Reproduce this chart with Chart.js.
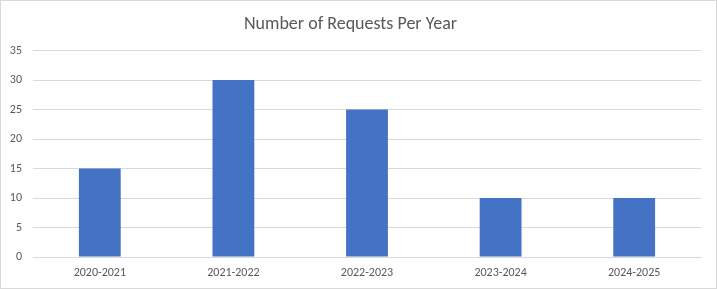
<!DOCTYPE html>
<html>
<head>
<meta charset="utf-8">
<script src="https://cdn.jsdelivr.net/npm/chart.js@4"></script>
<style>
html,body{margin:0;padding:0;background:#fff;}
canvas{display:block;}
</style>
</head>
<body>
<canvas id="c" width="717" height="289"></canvas>
<script>
const categories = ["2020-2021", "2021-2022", "2022-2023", "2023-2024", "2024-2025"];
const requests = [15, 30, 25, 10, 10];
const chartTitle = "Number of Requests Per Year";

const FONT = "Carlito, Calibri, Lato, 'Open Sans', sans-serif";

const frame = {
  id: 'frame',
  beforeDraw(chart) {
    const ctx = chart.ctx;
    ctx.save();
    ctx.fillStyle = '#ffffff';
    ctx.fillRect(0, 0, chart.width, chart.height);
    ctx.restore();
  },
  afterDraw(chart) {
    const ctx = chart.ctx;
    ctx.save();
    ctx.strokeStyle = '#d9d9d9';
    ctx.lineWidth = 1;
    ctx.strokeRect(0.5, 0.5, chart.width - 1, chart.height - 1);
    ctx.restore();
  }
};

new Chart(document.getElementById('c'), {
  type: 'bar',
  data: {
    labels: categories,
    datasets: [{
      label: 'Requests',
      data: requests,
      backgroundColor: '#4472C4',
      borderWidth: 0,
      categoryPercentage: 1,
      barPercentage: 0.313
    }]
  },
  plugins: [frame],
  options: {
    responsive: false,
    animation: false,
    devicePixelRatio: 1,
    layout: { padding: { left: 0, right: 16, top: 0, bottom: 0 } },
    plugins: {
      legend: { display: false },
      tooltip: { enabled: false },
      title: {
        display: true,
        text: chartTitle,
        color: '#595959',
        font: { family: FONT, size: 18, weight: 'normal' },
        padding: { top: 14, bottom: 15 }
      }
    },
    scales: {
      x: {
        grid: { display: false, drawTicks: false },
        border: { display: true, color: '#d9d9d9', width: 1 },
        ticks: { color: '#595959', font: { family: FONT, size: 12 }, padding: 9, maxRotation: 0 },
        afterFit(scale) { scale.height = 32; }
      },
      y: {
        min: 0,
        max: 35,
        ticks: { stepSize: 5, color: '#595959', font: { family: FONT, size: 12 }, padding: 11 },
        grid: { color: '#d9d9d9', drawTicks: false },
        border: { display: false },
        afterFit(scale) { scale.width = 33; }
      }
    }
  }
});
</script>
</body>
</html>
